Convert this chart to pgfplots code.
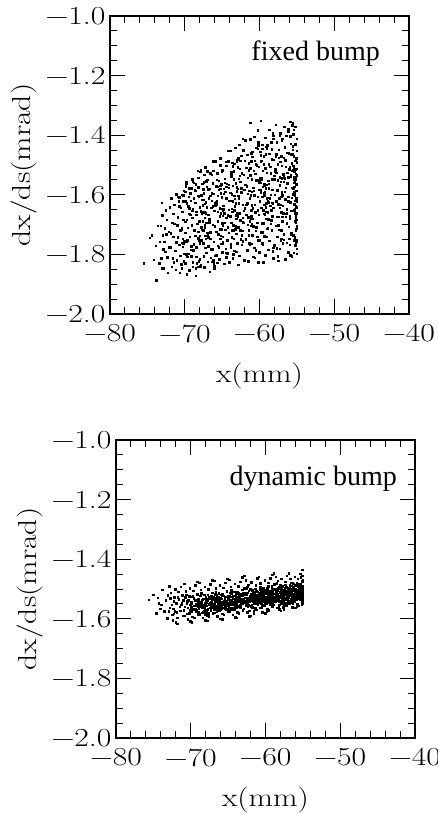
\documentclass[border=0pt]{standalone}
\usepackage{fontspec}
\usepackage{graphicx}
\usepackage{pgfplots}
\pgfplotsset{compat=1.18}
\newfontfamily\tnr{Liberation Serif}
% wide lettering of the original plot
\newcommand\w[1]{\scalebox{1.22}[1]{#1}}

\pgfplotsset{panel/.style={
    scale only axis,
    width=299pt, height=298pt,
    xmin=-80, xmax=-40, ymin=-2, ymax=-1,
    xtick={-80,-70,-60,-50,-40},
    xticklabels={\w{−80},\w{−70},\w{−60},\w{−50},\w{−40}},
    ytick={-2,-1.8,-1.6,-1.4,-1.2,-1},
    yticklabels={\w{−2.0},\w{−1.8},\w{−1.6},\w{−1.4},\w{−1.2},\w{−1.0}},
    minor x tick num=4,
    minor y tick num=3,
    tick align=inside,
    major tick length=15pt,
    minor tick length=7pt,
    every tick/.style={black, line width=0.9pt},
    axis line style={line width=1.3pt},
    tick label style={font=\fontsize{26}{30}\selectfont},
    xticklabel style={yshift=-7pt},
    yticklabel style={xshift=-1pt},
    label style={font=\fontsize{26}{30}\selectfont},
    xlabel={\w{x(mm)}},
    ylabel={\w{dx/ds(mrad)}},
    xlabel style={at={(axis description cs:0.5,-0.208)}, anchor=center},
    ylabel style={at={(axis description cs:-0.288,0.5)}, anchor=center},
  },
  dots/.style={only marks, mark=square*, mark size=0.75pt, black},
}

\begin{document}
\begin{tikzpicture}
\begin{axis}[panel, at={(0pt,0pt)}, anchor=south west]
\addplot[dots] coordinates {
(-75.52,-1.829) (-74.41,-1.736) (-74.68,-1.744) (-73.83,-1.886) (-73.07,-1.627) (-73.91,-1.771) (-74.15,-1.818) (-73.62,-1.703)
(-73.18,-1.812) (-72.41,-1.684) (-72.87,-1.846) (-73.34,-1.757) (-72.15,-1.723) (-72.63,-1.791) (-73.02,-1.668) (-72.29,-1.862) (-72.94,-1.735) (-73.45,-1.829) (-72.08,-1.776) (-72.52,-1.651) (-73.21,-1.703) (-72.76,-1.758) (-72.33,-1.809) (-73.11,-1.847) (-72.69,-1.712) (-72.04,-1.641) (-72.88,-1.782) (-72.46,-1.733)
(-71.83,-1.612) (-70.27,-1.748) (-71.46,-1.826) (-70.91,-1.673) (-71.12,-1.759) (-70.58,-1.804) (-71.71,-1.694) (-70.14,-1.587) (-71.38,-1.633) (-70.66,-1.861) (-71.95,-1.776) (-70.43,-1.712) (-71.24,-1.851) (-70.82,-1.621) (-71.57,-1.741) (-70.05,-1.797) (-71.03,-1.702) (-70.36,-1.657) (-71.64,-1.813) (-70.71,-1.768) (-71.17,-1.598) (-70.49,-1.833) (-71.89,-1.729) (-70.22,-1.683) (-71.31,-1.787) (-70.97,-1.742) (-71.52,-1.664) (-70.61,-1.718) (-71.08,-1.819) (-70.33,-1.761) (-71.77,-1.842) (-70.88,-1.606) (-71.43,-1.697) (-70.11,-1.823) (-70.54,-1.644)
(-69.87,-1.571) (-68.23,-1.542) (-69.41,-1.663) (-68.76,-1.718) (-69.12,-1.806) (-68.58,-1.627) (-69.64,-1.752) (-68.05,-1.689) (-69.28,-1.594) (-68.91,-1.841) (-69.95,-1.727) (-68.37,-1.774) (-69.53,-1.638) (-68.69,-1.583) (-69.06,-1.702) (-68.14,-1.823) (-69.77,-1.867) (-68.45,-1.656) (-69.33,-1.741) (-68.83,-1.765) (-69.19,-1.619) (-68.52,-1.872) (-69.71,-1.684) (-68.28,-1.603) (-69.46,-1.797) (-68.97,-1.676) (-69.02,-1.548) (-68.63,-1.738) (-69.89,-1.622) (-68.11,-1.752) (-69.58,-1.711) (-68.41,-1.829) (-69.24,-1.667) (-68.79,-1.612) (-69.66,-1.808) (-68.32,-1.697) (-69.15,-1.772) (-68.55,-1.564) (-69.38,-1.853) (-68.02,-1.641) (-69.81,-1.758) (-68.87,-1.786) (-69.49,-1.578) (-68.19,-1.724) (-68.94,-1.649)
(-67.91,-1.523) (-66.22,-1.488) (-67.45,-1.617) (-66.73,-1.682) (-67.18,-1.748) (-66.54,-1.811) (-67.66,-1.562) (-66.09,-1.653) (-67.32,-1.709) (-66.88,-1.773) (-67.84,-1.836) (-66.37,-1.594) (-67.03,-1.641) (-66.61,-1.726) (-67.57,-1.689) (-66.15,-1.758) (-67.26,-1.508) (-66.95,-1.824) (-67.72,-1.661) (-66.42,-1.532) (-67.11,-1.795) (-66.79,-1.612) (-67.39,-1.843) (-66.27,-1.701) (-67.97,-1.738) (-66.66,-1.579) (-67.52,-1.762) (-66.04,-1.846) (-67.23,-1.624) (-66.84,-1.667) (-67.63,-1.719) (-66.31,-1.783) (-67.07,-1.556) (-66.58,-1.747) (-67.81,-1.602) (-66.19,-1.519) (-67.36,-1.676) (-66.91,-1.734) (-67.49,-1.806) (-66.47,-1.643) (-67.14,-1.693) (-66.69,-1.858) (-67.77,-1.752) (-66.12,-1.597) (-67.29,-1.778) (-66.98,-1.549) (-67.59,-1.635) (-66.35,-1.824) (-67.02,-1.727) (-66.76,-1.692)
(-65.88,-1.487) (-64.21,-1.452) (-65.43,-1.583) (-64.76,-1.648) (-65.14,-1.716) (-64.52,-1.781) (-65.67,-1.527) (-64.08,-1.619) (-65.31,-1.672) (-64.89,-1.741) (-65.82,-1.803) (-64.36,-1.562) (-65.05,-1.608) (-64.63,-1.693) (-65.56,-1.657) (-64.14,-1.727) (-65.24,-1.478) (-64.97,-1.792) (-65.73,-1.631) (-64.43,-1.503) (-65.12,-1.764) (-64.78,-1.579) (-65.38,-1.816) (-64.27,-1.668) (-65.96,-1.706) (-64.67,-1.546) (-65.51,-1.733) (-64.03,-1.827) (-65.22,-1.594) (-64.85,-1.636) (-65.62,-1.688) (-64.32,-1.752) (-65.08,-1.521) (-64.57,-1.717) (-65.79,-1.571) (-64.18,-1.488) (-65.35,-1.645) (-64.92,-1.703) (-65.48,-1.776) (-64.46,-1.612) (-65.16,-1.662) (-64.71,-1.831) (-65.76,-1.724) (-64.11,-1.566) (-65.28,-1.748) (-64.99,-1.517) (-65.59,-1.603) (-64.34,-1.796) (-65.01,-1.695) (-64.74,-1.661) (-65.92,-1.626) (-64.56,-1.589) (-65.19,-1.738) (-64.24,-1.709) (-65.44,-1.553)
(-63.87,-1.452) (-62.23,-1.412) (-63.42,-1.547) (-62.77,-1.612) (-63.13,-1.681) (-62.51,-1.749) (-63.68,-1.493) (-62.06,-1.583) (-63.32,-1.638) (-62.88,-1.708) (-63.83,-1.776) (-62.38,-1.528) (-63.04,-1.574) (-62.62,-1.661) (-63.57,-1.623) (-62.15,-1.694) (-63.25,-1.442) (-62.96,-1.762) (-63.74,-1.598) (-62.44,-1.469) (-63.11,-1.731) (-62.79,-1.546) (-63.37,-1.788) (-62.28,-1.633) (-63.95,-1.672) (-62.66,-1.512) (-63.52,-1.702) (-62.02,-1.819) (-63.21,-1.561) (-62.84,-1.603) (-63.63,-1.657) (-62.33,-1.721) (-63.07,-1.487) (-62.58,-1.686) (-63.79,-1.537) (-62.19,-1.451) (-63.34,-1.613) (-62.91,-1.672) (-63.47,-1.747) (-62.47,-1.578) (-63.16,-1.629) (-62.72,-1.804) (-63.77,-1.693) (-62.12,-1.532) (-63.27,-1.716) (-62.98,-1.483) (-63.58,-1.569) (-62.35,-1.767) (-63.01,-1.662) (-62.75,-1.628) (-63.91,-1.593) (-62.55,-1.556) (-63.18,-1.706) (-62.25,-1.677) (-63.43,-1.521) (-62.86,-1.834) (-63.61,-1.813) (-62.41,-1.736) (-63.09,-1.791) (-62.69,-1.432)
(-61.88,-1.417) (-60.22,-1.383) (-61.43,-1.518) (-60.76,-1.586) (-61.14,-1.652) (-60.53,-1.721) (-61.67,-1.465) (-60.07,-1.557) (-61.31,-1.611) (-60.89,-1.681) (-61.84,-1.749) (-60.37,-1.501) (-61.05,-1.547) (-60.63,-1.634) (-61.56,-1.596) (-60.14,-1.667) (-61.24,-1.414) (-60.97,-1.736) (-61.73,-1.571) (-60.43,-1.442) (-61.12,-1.703) (-60.78,-1.519) (-61.38,-1.762) (-60.27,-1.606) (-61.96,-1.645) (-60.67,-1.485) (-61.51,-1.675) (-60.03,-1.792) (-61.22,-1.534) (-60.85,-1.576) (-61.62,-1.629) (-60.32,-1.694) (-61.08,-1.461) (-60.57,-1.659) (-61.79,-1.509) (-60.18,-1.424) (-61.35,-1.586) (-60.92,-1.645) (-61.47,-1.719) (-60.46,-1.551) (-61.17,-1.601) (-60.71,-1.777) (-61.76,-1.666) (-60.11,-1.505) (-61.28,-1.689) (-60.99,-1.456) (-61.59,-1.542) (-60.34,-1.741) (-61.01,-1.635) (-60.74,-1.601) (-61.92,-1.566) (-60.56,-1.529) (-61.19,-1.679) (-60.24,-1.651) (-61.44,-1.494) (-60.87,-1.808) (-61.64,-1.786) (-60.41,-1.709) (-61.09,-1.764) (-60.69,-1.405) (-61.27,-1.358) (-60.16,-1.827) (-61.53,-1.823) (-60.81,-1.705) (-61.02,-1.589)
(-59.87,-1.352) (-58.23,-1.394) (-59.42,-1.498) (-58.76,-1.563) (-59.13,-1.628) (-58.52,-1.697) (-59.66,-1.445) (-58.06,-1.536) (-59.31,-1.589) (-58.88,-1.658) (-59.83,-1.726) (-58.38,-1.481) (-59.04,-1.525) (-58.62,-1.611) (-59.56,-1.573) (-58.14,-1.644) (-59.25,-1.408) (-58.96,-1.713) (-59.74,-1.548) (-58.44,-1.424) (-59.11,-1.681) (-58.79,-1.497) (-59.37,-1.739) (-58.28,-1.583) (-59.95,-1.622) (-58.67,-1.462) (-59.52,-1.652) (-58.02,-1.769) (-59.21,-1.511) (-58.84,-1.553) (-59.63,-1.606) (-58.33,-1.671) (-59.07,-1.438) (-58.58,-1.636) (-59.78,-1.486) (-58.19,-1.401) (-59.34,-1.563) (-58.91,-1.622) (-59.47,-1.696) (-58.47,-1.528) (-59.16,-1.578) (-58.72,-1.754) (-59.77,-1.643) (-58.12,-1.482) (-59.28,-1.666) (-58.98,-1.433) (-59.58,-1.519) (-58.35,-1.718) (-59.01,-1.612) (-58.75,-1.578) (-59.91,-1.543) (-58.55,-1.506) (-59.18,-1.656) (-58.25,-1.628) (-59.44,-1.471) (-58.86,-1.785) (-59.64,-1.763) (-58.41,-1.686) (-59.09,-1.741) (-58.69,-1.382) (-59.27,-1.803) (-58.16,-1.812) (-59.53,-1.826) (-58.81,-1.682) (-59.02,-1.566) (-58.49,-1.599) (-59.71,-1.695) (-58.31,-1.547) (-59.39,-1.633) (-58.93,-1.711)
(-57.86,-1.364) (-56.22,-1.378) (-57.41,-1.476) (-56.77,-1.541) (-57.12,-1.606) (-56.51,-1.674) (-57.67,-1.423) (-56.05,-1.514) (-57.32,-1.567) (-56.89,-1.636) (-57.82,-1.704) (-56.39,-1.459) (-57.03,-1.503) (-56.61,-1.589) (-57.57,-1.551) (-56.13,-1.622) (-57.26,-1.393) (-56.95,-1.691) (-57.75,-1.526) (-56.45,-1.402) (-57.11,-1.659) (-56.78,-1.475) (-57.36,-1.717) (-56.29,-1.561) (-57.94,-1.599) (-56.66,-1.441) (-57.51,-1.631) (-56.03,-1.747) (-57.22,-1.489) (-56.83,-1.531) (-57.64,-1.584) (-56.34,-1.649) (-57.06,-1.416) (-56.57,-1.614) (-57.79,-1.464) (-56.18,-1.386) (-57.33,-1.541) (-56.92,-1.601) (-57.46,-1.674) (-56.48,-1.506) (-57.17,-1.556) (-56.73,-1.732) (-57.76,-1.621) (-56.11,-1.461) (-57.29,-1.644) (-56.97,-1.411) (-57.59,-1.497) (-56.36,-1.696) (-57.01,-1.591) (-56.74,-1.556) (-57.92,-1.521) (-56.54,-1.484) (-57.19,-1.634) (-56.26,-1.606) (-57.43,-1.449) (-56.87,-1.763) (-57.63,-1.741) (-56.42,-1.664) (-57.08,-1.719) (-56.68,-1.372) (-57.28,-1.781) (-56.15,-1.792) (-57.54,-1.806) (-56.82,-1.661) (-57.04,-1.544) (-56.49,-1.577) (-57.72,-1.673) (-56.31,-1.525) (-57.38,-1.611) (-56.94,-1.689) (-57.48,-1.821) (-56.58,-1.816) (-57.15,-1.752) (-56.07,-1.707) (-57.69,-1.779)
(-55.91,-1.355) (-55.22,-1.372) (-55.63,-1.463) (-55.37,-1.521) (-55.12,-1.586) (-55.78,-1.654) (-55.05,-1.412) (-55.48,-1.503) (-55.29,-1.557) (-55.86,-1.624) (-55.14,-1.692) (-55.57,-1.448) (-55.03,-1.491) (-55.69,-1.577) (-55.33,-1.541) (-55.08,-1.611) (-55.44,-1.382) (-55.95,-1.679) (-55.17,-1.514) (-55.52,-1.396) (-55.26,-1.647) (-55.74,-1.463) (-55.02,-1.705) (-55.39,-1.548) (-55.11,-1.587) (-55.83,-1.429) (-55.21,-1.619) (-55.47,-1.735) (-55.06,-1.477) (-55.61,-1.519) (-55.34,-1.572) (-55.15,-1.637) (-55.89,-1.404) (-55.27,-1.602) (-55.04,-1.452) (-55.55,-1.358) (-55.19,-1.529) (-55.42,-1.589) (-55.09,-1.662) (-55.71,-1.494) (-55.31,-1.544) (-55.13,-1.721) (-55.66,-1.609) (-55.01,-1.563) (-55.36,-1.632) (-55.81,-1.539) (-55.24,-1.485) (-55.07,-1.684) (-55.49,-1.578) (-55.18,-1.543) (-55.96,-1.508) (-55.41,-1.471) (-55.02,-1.622) (-55.28,-1.594) (-55.58,-1.437) (-55.11,-1.751) (-55.76,-1.729) (-55.35,-1.652) (-55.05,-1.707) (-55.64,-1.366) (-55.23,-1.769) (-55.03,-1.781) (-55.45,-1.794) (-55.16,-1.668) (-55.85,-1.532) (-55.07,-1.565) (-55.32,-1.661) (-55.01,-1.512) (-55.53,-1.598) (-55.19,-1.676) (-55.72,-1.806) (-55.04,-1.798) (-55.26,-1.742) (-55.12,-1.713) (-55.93,-1.767) (-55.02,-1.535) (-55.38,-1.559) (-55.09,-1.641) (-55.21,-1.688) (-55.06,-1.758)
(-66.44,-1.782) (-57.92,-1.514) (-64.49,-1.489) (-58.74,-1.625) (-55.36,-1.753) (-66.38,-1.619) (-65.65,-1.573) (-67.34,-1.701) (-62.55,-1.485) (-66.09,-1.840) (-70.29,-1.774) (-65.63,-1.828) (-64.94,-1.757) (-61.46,-1.736) (-59.83,-1.560) (-63.73,-1.743) (-62.23,-1.720) (-68.20,-1.574) (-63.38,-1.652) (-65.28,-1.579)
(-59.38,-1.602) (-61.27,-1.510) (-58.20,-1.411) (-64.45,-1.809) (-67.97,-1.762) (-60.66,-1.811) (-59.67,-1.432) (-64.12,-1.576) (-55.50,-1.518) (-70.20,-1.623) (-64.47,-1.677) (-56.13,-1.541) (-60.20,-1.551) (-64.96,-1.764) (-60.51,-1.786) (-65.11,-1.564) (-68.21,-1.842) (-56.14,-1.607) (-70.21,-1.621) (-55.17,-1.765)
(-57.48,-1.702) (-60.52,-1.498) (-69.88,-1.561) (-58.36,-1.627) (-69.33,-1.577) (-69.96,-1.691) (-61.61,-1.701) (-56.48,-1.483) (-67.22,-1.555) (-55.96,-1.672) (-68.16,-1.604) (-67.86,-1.517) (-68.48,-1.775) (-56.79,-1.750) (-66.88,-1.582) (-63.68,-1.620) (-60.99,-1.472) (-63.55,-1.799) (-67.41,-1.658) (-69.81,-1.557)
(-63.80,-1.529) (-59.40,-1.663) (-61.14,-1.671) (-59.19,-1.464) (-57.13,-1.748) (-68.28,-1.519) (-67.04,-1.572) (-62.92,-1.580) (-59.16,-1.641) (-59.64,-1.726) (-65.73,-1.620) (-57.08,-1.471) (-66.22,-1.820) (-68.93,-1.556) (-59.35,-1.593) (-66.89,-1.743) (-66.58,-1.603) (-70.43,-1.847) (-58.21,-1.790) (-55.22,-1.547)
(-69.78,-1.800) (-67.98,-1.816) (-63.81,-1.522) (-56.35,-1.661) (-62.43,-1.591) (-58.38,-1.447) (-63.41,-1.603) (-67.50,-1.659) (-63.09,-1.668) (-63.54,-1.719) (-67.40,-1.533) (-63.74,-1.647) (-66.11,-1.829) (-70.10,-1.755) (-62.13,-1.654) (-55.87,-1.803) (-69.91,-1.590) (-65.90,-1.804) (-59.88,-1.456) (-67.66,-1.616)
(-67.33,-1.630) (-67.53,-1.581) (-61.81,-1.633) (-69.77,-1.629) (-67.17,-1.625) (-62.68,-1.536) (-68.22,-1.746) (-70.23,-1.602) (-65.59,-1.771) (-60.01,-1.752) (-59.57,-1.767) (-61.33,-1.766) (-65.25,-1.716) (-55.80,-1.733) (-69.92,-1.830) (-70.72,-1.639) (-69.11,-1.784) (-60.18,-1.434) (-59.04,-1.445) (-61.95,-1.486)
(-59.84,-1.467) (-67.96,-1.839) (-65.94,-1.635) (-57.33,-1.401) (-66.28,-1.561) (-61.01,-1.697) (-60.21,-1.446) (-60.15,-1.753) (-67.20,-1.662) (-67.89,-1.655) (-63.56,-1.504) (-55.40,-1.508) (-67.48,-1.595) (-70.73,-1.608) (-63.85,-1.766) (-59.85,-1.487) (-65.75,-1.549) (-64.78,-1.596) (-55.97,-1.804) (-57.01,-1.600)
(-70.37,-1.600) (-69.17,-1.578) (-59.86,-1.584) (-69.41,-1.645) (-64.52,-1.794) (-68.63,-1.586) (-62.27,-1.755) (-59.39,-1.569) (-65.77,-1.623) (-69.26,-1.666) (-68.94,-1.826) (-68.52,-1.847) (-69.79,-1.562) (-67.82,-1.708) (-64.14,-1.650) (-67.64,-1.717) (-62.77,-1.609) (-68.47,-1.667) (-65.12,-1.646) (-58.90,-1.610)
(-68.49,-1.808) (-64.63,-1.559) (-64.95,-1.652) (-66.29,-1.638) (-67.51,-1.719) (-58.19,-1.777) (-58.45,-1.652) (-69.45,-1.607) (-59.87,-1.593) (-70.92,-1.677) (-62.90,-1.508) (-60.05,-1.583) (-60.53,-1.550) (-61.11,-1.488) (-65.29,-1.501) (-64.93,-1.670) (-63.37,-1.495) (-57.97,-1.548) (-56.36,-1.761) (-56.18,-1.378)
(-67.25,-1.738) (-65.27,-1.569) (-67.47,-1.557) (-64.44,-1.572) (-62.25,-1.690) (-62.85,-1.477) (-59.80,-1.544) (-66.57,-1.527) (-56.63,-1.545) (-67.01,-1.521) (-55.23,-1.430) (-62.56,-1.718) (-57.81,-1.471) (-68.82,-1.559) (-68.98,-1.654) (-70.38,-1.717) (-56.93,-1.673) (-63.72,-1.718) (-70.24,-1.762) (-63.04,-1.588)
};
\node[anchor=base east, inner sep=0pt, font=\fontsize{28}{32}\selectfont\tnr]
  at (axis description cs:0.903,0.852) {fixed bump};
\end{axis}

\begin{axis}[panel, at={(6pt,-424pt)}, anchor=south west]
\addplot[dots] coordinates {
(-75.61,-1.536) (-75.02,-1.519) (-74.63,-1.582) (-74.28,-1.547) (-74.07,-1.566) (-73.81,-1.503) (-73.55,-1.574) (-73.36,-1.537) (-73.18,-1.598) (-73.92,-1.552) (-73.07,-1.521) (-74.41,-1.529)
(-72.87,-1.491) (-71.24,-1.546) (-72.43,-1.605) (-71.76,-1.527) (-72.12,-1.574) (-71.51,-1.559) (-72.66,-1.512) (-71.05,-1.589) (-72.31,-1.541) (-71.88,-1.578) (-72.82,-1.563) (-71.37,-1.492) (-72.03,-1.612) (-71.62,-1.534) (-72.57,-1.553) (-71.14,-1.521) (-72.25,-1.583) (-71.96,-1.547) (-72.74,-1.531) (-71.44,-1.572) (-72.11,-1.501) (-71.79,-1.596) (-72.37,-1.566) (-71.28,-1.553) (-72.95,-1.574) (-71.67,-1.509) (-72.51,-1.587) (-71.02,-1.538) (-72.22,-1.528) (-71.84,-1.616)
(-70.86,-1.483) (-69.23,-1.549) (-70.42,-1.601) (-69.77,-1.524) (-70.13,-1.571) (-69.52,-1.556) (-70.67,-1.508) (-69.06,-1.586) (-70.32,-1.538) (-69.89,-1.575) (-70.83,-1.559) (-69.38,-1.488) (-70.04,-1.608) (-69.61,-1.531) (-70.56,-1.549) (-69.15,-1.517) (-70.26,-1.579) (-69.95,-1.543) (-70.74,-1.527) (-69.45,-1.568) (-70.11,-1.497) (-69.78,-1.593) (-70.38,-1.562) (-69.29,-1.549) (-70.94,-1.571) (-69.66,-1.505) (-70.52,-1.583) (-69.03,-1.534) (-70.21,-1.524) (-69.84,-1.612) (-70.47,-1.541) (-69.33,-1.566) (-70.79,-1.589) (-69.12,-1.476) (-70.06,-1.553) (-69.57,-1.597) (-70.61,-1.519) (-69.41,-1.537) (-70.18,-1.582) (-69.92,-1.561)
(-68.87,-1.478) (-67.22,-1.544) (-68.41,-1.597) (-67.76,-1.519) (-68.14,-1.566) (-67.53,-1.551) (-68.66,-1.503) (-67.07,-1.581) (-68.33,-1.533) (-67.88,-1.571) (-68.84,-1.555) (-67.37,-1.484) (-68.05,-1.604) (-67.62,-1.527) (-68.57,-1.545) (-67.16,-1.512) (-68.27,-1.574) (-67.94,-1.538) (-68.73,-1.522) (-67.46,-1.563) (-68.12,-1.492) (-67.79,-1.588) (-68.39,-1.557) (-67.29,-1.544) (-68.96,-1.566) (-67.67,-1.501) (-68.53,-1.579) (-67.04,-1.529) (-68.22,-1.519) (-67.83,-1.607) (-68.48,-1.536) (-67.34,-1.561) (-68.78,-1.584) (-67.13,-1.471) (-68.07,-1.548) (-67.58,-1.592) (-68.62,-1.514) (-67.42,-1.532) (-68.19,-1.577) (-67.91,-1.556) (-68.45,-1.562) (-67.25,-1.531) (-68.91,-1.541) (-67.71,-1.567) (-68.02,-1.536) (-67.49,-1.548) (-68.31,-1.553) (-67.09,-1.559)
(-66.88,-1.472) (-65.21,-1.539) (-66.43,-1.592) (-65.77,-1.515) (-66.12,-1.561) (-65.54,-1.546) (-66.67,-1.498) (-65.06,-1.576) (-66.34,-1.528) (-65.87,-1.566) (-66.83,-1.551) (-65.36,-1.479) (-66.04,-1.599) (-65.63,-1.522) (-66.58,-1.541) (-65.17,-1.507) (-66.26,-1.569) (-65.93,-1.533) (-66.72,-1.517) (-65.47,-1.558) (-66.14,-1.487) (-65.78,-1.583) (-66.38,-1.552) (-65.28,-1.539) (-66.97,-1.561) (-65.68,-1.496) (-66.52,-1.574) (-65.03,-1.524) (-66.23,-1.514) (-65.82,-1.601) (-66.47,-1.531) (-65.33,-1.556) (-66.77,-1.579) (-65.12,-1.466) (-66.08,-1.543) (-65.57,-1.587) (-66.63,-1.509) (-65.43,-1.527) (-66.18,-1.572) (-65.91,-1.551) (-66.46,-1.557) (-65.24,-1.526) (-66.92,-1.536) (-65.72,-1.562) (-66.01,-1.531) (-65.48,-1.543) (-66.32,-1.548) (-65.08,-1.554) (-66.55,-1.521) (-65.39,-1.566) (-66.86,-1.529) (-65.61,-1.541) (-66.21,-1.537) (-65.15,-1.549) (-65.98,-1.519)
(-64.87,-1.468) (-63.23,-1.534) (-64.42,-1.587) (-63.76,-1.511) (-64.13,-1.557) (-63.52,-1.541) (-64.66,-1.493) (-63.07,-1.571) (-64.33,-1.523) (-63.88,-1.561) (-64.84,-1.547) (-63.38,-1.475) (-64.04,-1.594) (-63.61,-1.517) (-64.57,-1.536) (-63.15,-1.502) (-64.27,-1.564) (-63.94,-1.528) (-64.73,-1.512) (-63.46,-1.553) (-64.11,-1.482) (-63.79,-1.578) (-64.38,-1.547) (-63.29,-1.534) (-64.96,-1.556) (-63.67,-1.491) (-64.53,-1.569) (-63.03,-1.519) (-64.22,-1.509) (-63.83,-1.596) (-64.48,-1.526) (-63.34,-1.551) (-64.78,-1.574) (-63.12,-1.461) (-64.07,-1.538) (-63.58,-1.582) (-64.62,-1.504) (-63.42,-1.522) (-64.19,-1.567) (-63.91,-1.546) (-64.45,-1.552) (-63.25,-1.521) (-64.92,-1.531) (-63.71,-1.557) (-64.01,-1.526) (-63.49,-1.538) (-64.31,-1.543) (-63.09,-1.549) (-64.56,-1.516) (-63.39,-1.561) (-64.86,-1.524) (-63.62,-1.536) (-64.21,-1.532) (-63.16,-1.544) (-63.97,-1.514) (-64.69,-1.545) (-63.55,-1.529) (-64.15,-1.551) (-63.85,-1.539) (-63.33,-1.518)
(-61.14,-1.463) (-62.71,-1.529) (-61.58,-1.582) (-62.27,-1.506) (-61.86,-1.552) (-62.49,-1.537) (-61.33,-1.488) (-62.93,-1.566) (-61.69,-1.518) (-62.12,-1.556) (-61.17,-1.542) (-62.64,-1.471) (-61.96,-1.589) (-62.38,-1.512) (-61.43,-1.531) (-62.86,-1.497) (-61.73,-1.559) (-62.06,-1.523) (-61.27,-1.507) (-62.55,-1.548) (-61.89,-1.477) (-62.21,-1.573) (-61.62,-1.542) (-62.72,-1.529) (-61.04,-1.551) (-62.33,-1.486) (-61.47,-1.564) (-62.97,-1.514) (-61.78,-1.504) (-62.17,-1.591) (-61.52,-1.521) (-62.66,-1.546) (-61.22,-1.569) (-62.88,-1.456) (-61.93,-1.533) (-62.42,-1.577) (-61.38,-1.499) (-62.58,-1.517) (-61.81,-1.562) (-62.09,-1.541) (-61.55,-1.547) (-62.75,-1.516) (-61.08,-1.526) (-62.29,-1.552) (-61.99,-1.521) (-62.51,-1.533) (-61.69,-1.538) (-62.91,-1.544) (-61.44,-1.511) (-62.61,-1.556) (-61.14,-1.519) (-62.37,-1.531) (-61.79,-1.527) (-62.84,-1.539) (-61.03,-1.509) (-62.31,-1.541) (-61.45,-1.524) (-62.85,-1.546) (-61.15,-1.534) (-62.67,-1.513) (-61.28,-1.548) (-62.02,-1.501) (-61.61,-1.574) (-62.46,-1.493) (-61.91,-1.557)
(-60.88,-1.458) (-59.24,-1.522) (-60.41,-1.577) (-59.75,-1.499) (-60.12,-1.546) (-59.53,-1.529) (-60.68,-1.481) (-59.08,-1.559) (-60.34,-1.511) (-59.87,-1.549) (-60.83,-1.535) (-59.39,-1.463) (-60.03,-1.582) (-59.62,-1.505) (-60.56,-1.524) (-59.16,-1.491) (-60.26,-1.552) (-59.95,-1.516) (-60.74,-1.501) (-59.47,-1.541) (-60.12,-1.471) (-59.79,-1.566) (-60.39,-1.535) (-59.28,-1.522) (-60.97,-1.544) (-59.66,-1.479) (-60.52,-1.557) (-59.04,-1.507) (-60.23,-1.497) (-59.84,-1.575) (-60.47,-1.514) (-59.35,-1.539) (-60.79,-1.562) (-59.11,-1.452) (-60.07,-1.526) (-59.58,-1.571) (-60.63,-1.493) (-59.44,-1.511) (-60.18,-1.555) (-59.92,-1.534) (-60.44,-1.541) (-59.26,-1.509) (-60.93,-1.519) (-59.72,-1.545) (-60.02,-1.514) (-59.49,-1.526) (-60.32,-1.531) (-59.09,-1.537) (-60.57,-1.504) (-59.38,-1.549) (-60.87,-1.512) (-59.61,-1.524) (-60.22,-1.521) (-59.17,-1.532) (-59.98,-1.502) (-60.69,-1.533) (-59.54,-1.517) (-60.14,-1.539) (-59.86,-1.527) (-59.32,-1.506) (-60.59,-1.548) (-59.21,-1.513) (-60.91,-1.529) (-59.67,-1.536) (-60.28,-1.508) (-59.06,-1.523) (-60.49,-1.561) (-59.81,-1.496) (-60.05,-1.543) (-59.42,-1.532)
(-57.16,-1.455) (-58.73,-1.516) (-57.57,-1.569) (-58.26,-1.493) (-57.87,-1.539) (-58.48,-1.522) (-57.34,-1.475) (-58.92,-1.552) (-57.68,-1.504) (-58.13,-1.543) (-57.18,-1.529) (-58.63,-1.458) (-57.97,-1.572) (-58.39,-1.498) (-57.44,-1.517) (-58.85,-1.484) (-57.74,-1.545) (-58.05,-1.509) (-57.26,-1.494) (-58.54,-1.534) (-57.88,-1.465) (-58.22,-1.559) (-57.61,-1.528) (-58.71,-1.515) (-57.03,-1.537) (-58.34,-1.472) (-57.48,-1.551) (-58.96,-1.501) (-57.77,-1.491) (-58.16,-1.567) (-57.53,-1.507) (-58.65,-1.532) (-57.23,-1.555) (-58.89,-1.447) (-57.92,-1.519) (-58.43,-1.563) (-57.37,-1.486) (-58.59,-1.504) (-57.82,-1.548) (-58.08,-1.527) (-57.56,-1.534) (-58.76,-1.503) (-57.07,-1.512) (-58.28,-1.538) (-57.98,-1.507) (-58.51,-1.519) (-57.69,-1.524) (-58.91,-1.531) (-57.43,-1.497) (-58.62,-1.542) (-57.13,-1.505) (-58.38,-1.517) (-57.78,-1.514) (-58.83,-1.526) (-57.02,-1.495) (-58.31,-1.526) (-57.46,-1.511) (-58.86,-1.532) (-57.14,-1.521) (-58.68,-1.499) (-57.27,-1.535) (-58.03,-1.488) (-57.62,-1.561) (-58.47,-1.481) (-57.91,-1.544) (-57.31,-1.518) (-58.19,-1.529) (-57.72,-1.541) (-58.57,-1.511) (-57.09,-1.548) (-58.11,-1.522) (-57.51,-1.502) (-58.79,-1.536) (-57.84,-1.492) (-57.39,-1.529)
(-56.87,-1.447) (-55.23,-1.509) (-56.42,-1.561) (-55.76,-1.484) (-56.13,-1.531) (-55.53,-1.514) (-56.67,-1.466) (-55.07,-1.546) (-56.33,-1.497) (-55.88,-1.536) (-56.84,-1.521) (-55.38,-1.449) (-56.04,-1.563) (-55.62,-1.491) (-56.57,-1.509) (-55.15,-1.476) (-56.27,-1.538) (-55.94,-1.503) (-56.73,-1.487) (-55.46,-1.527) (-56.11,-1.458) (-55.78,-1.551) (-56.38,-1.521) (-55.28,-1.508) (-56.96,-1.529) (-55.66,-1.465) (-56.52,-1.543) (-55.04,-1.494) (-56.22,-1.483) (-55.83,-1.559) (-56.47,-1.499) (-55.34,-1.524) (-56.78,-1.547) (-55.12,-1.436) (-56.07,-1.512) (-55.57,-1.556) (-56.62,-1.478) (-55.43,-1.496) (-56.18,-1.541) (-55.92,-1.519) (-56.44,-1.526) (-55.25,-1.493) (-56.92,-1.504) (-55.71,-1.531) (-56.01,-1.499) (-55.48,-1.511) (-56.31,-1.516) (-55.09,-1.523) (-56.56,-1.489) (-55.37,-1.534) (-56.86,-1.497) (-55.61,-1.509) (-56.21,-1.506) (-55.16,-1.518) (-55.97,-1.488) (-56.69,-1.518) (-55.54,-1.502) (-56.14,-1.524) (-55.85,-1.512) (-55.31,-1.491) (-56.59,-1.533) (-55.21,-1.498) (-56.91,-1.514) (-55.67,-1.521) (-56.28,-1.493) (-55.05,-1.507) (-56.49,-1.545) (-55.81,-1.481) (-56.05,-1.528) (-55.42,-1.517) (-55.11,-1.473) (-55.03,-1.531) (-55.19,-1.552) (-55.08,-1.489) (-55.27,-1.461) (-55.02,-1.514) (-55.14,-1.538) (-55.06,-1.501) (-55.22,-1.527) (-55.01,-1.548) (-55.33,-1.483) (-55.12,-1.456) (-55.04,-1.469) (-55.17,-1.519) (-55.09,-1.541)
(-57.18,-1.530) (-68.88,-1.545) (-60.39,-1.496) (-66.88,-1.564) (-60.79,-1.525) (-58.95,-1.532) (-60.73,-1.545) (-66.85,-1.561) (-59.26,-1.513) (-57.87,-1.525) (-65.49,-1.531) (-69.03,-1.542) (-56.62,-1.501) (-58.11,-1.493) (-62.41,-1.538) (-63.90,-1.555) (-56.07,-1.515) (-64.69,-1.553) (-59.23,-1.529) (-56.34,-1.480)
(-68.02,-1.547) (-55.57,-1.501) (-58.81,-1.531) (-58.26,-1.525) (-56.04,-1.487) (-67.36,-1.565) (-67.09,-1.528) (-62.68,-1.551) (-67.30,-1.573) (-65.01,-1.534) (-56.47,-1.508) (-61.60,-1.544) (-69.25,-1.571) (-63.73,-1.558) (-59.68,-1.526) (-63.09,-1.516) (-61.02,-1.530) (-59.32,-1.513) (-56.76,-1.521) (-61.78,-1.560)
(-67.60,-1.582) (-59.07,-1.556) (-69.03,-1.538) (-58.15,-1.553) (-63.39,-1.517) (-64.69,-1.537) (-58.36,-1.506) (-68.41,-1.552) (-69.00,-1.578) (-67.24,-1.524) (-61.72,-1.528) (-67.29,-1.548) (-66.34,-1.534) (-63.90,-1.551) (-61.62,-1.540) (-59.31,-1.517) (-63.52,-1.525) (-58.56,-1.518) (-68.02,-1.527) (-59.73,-1.518)
(-59.08,-1.548) (-55.15,-1.512) (-68.73,-1.553) (-64.68,-1.525) (-64.93,-1.534) (-60.10,-1.539) (-60.19,-1.507) (-56.58,-1.517) (-61.54,-1.535) (-64.63,-1.537) (-57.09,-1.506) (-60.51,-1.536) (-58.93,-1.552) (-62.41,-1.550) (-56.85,-1.513) (-65.88,-1.544) (-68.05,-1.587) (-64.99,-1.554) (-59.73,-1.522) (-68.31,-1.556)
(-62.22,-1.534) (-62.94,-1.535) (-58.09,-1.497) (-59.34,-1.517) (-58.75,-1.543) (-68.67,-1.557) (-63.01,-1.532) (-60.52,-1.504) (-68.94,-1.533) (-55.45,-1.525) (-55.20,-1.532) (-59.55,-1.530) (-55.87,-1.502) (-67.36,-1.569) (-64.93,-1.550) (-57.01,-1.506) (-57.24,-1.494) (-62.71,-1.519) (-57.27,-1.547) (-64.06,-1.523)
(-60.03,-1.543) (-65.80,-1.552) (-60.51,-1.516) (-63.99,-1.519) (-57.90,-1.525) (-56.37,-1.540) (-67.92,-1.579) (-65.97,-1.545) (-69.04,-1.558) (-56.79,-1.489) (-59.73,-1.542) (-56.73,-1.501) (-62.31,-1.542) (-61.63,-1.536) (-60.69,-1.493) (-64.36,-1.532) (-69.36,-1.539) (-60.37,-1.528) (-67.83,-1.538) (-59.11,-1.536)
(-68.38,-1.576) (-59.09,-1.512) (-67.20,-1.540) (-55.29,-1.508) (-62.38,-1.558) (-69.75,-1.568) (-65.10,-1.554) (-64.36,-1.544) (-55.99,-1.507) (-64.60,-1.565) (-67.93,-1.579) (-57.01,-1.502) (-69.15,-1.554) (-69.28,-1.575) (-62.16,-1.529) (-57.96,-1.529) (-55.41,-1.517) (-69.70,-1.568) (-69.21,-1.550) (-55.41,-1.493)
(-55.89,-1.502) (-58.17,-1.525) (-66.54,-1.538) (-59.74,-1.510) (-66.30,-1.562) (-67.71,-1.534) (-62.32,-1.534) (-61.99,-1.517) (-65.35,-1.563) (-55.08,-1.528) (-65.23,-1.567) (-65.73,-1.544) (-58.98,-1.528) (-64.03,-1.535) (-66.63,-1.531) (-66.60,-1.567) (-61.38,-1.519) (-66.69,-1.515) (-64.02,-1.535) (-66.00,-1.545)
(-65.77,-1.520) (-65.86,-1.560) (-65.26,-1.547) (-56.37,-1.548) (-58.44,-1.506) (-63.00,-1.544) (-55.24,-1.508) (-63.18,-1.516) (-67.86,-1.546) (-56.50,-1.533) (-66.88,-1.568) (-66.97,-1.528) (-68.92,-1.537) (-68.88,-1.557) (-61.32,-1.563) (-69.94,-1.549) (-56.67,-1.541) (-59.38,-1.553) (-57.85,-1.533) (-67.90,-1.571)
(-60.12,-1.543) (-67.29,-1.528) (-67.24,-1.548) (-59.46,-1.505) (-62.07,-1.537) (-59.64,-1.490) (-64.02,-1.551) (-68.16,-1.559) (-58.20,-1.541) (-62.49,-1.498) (-69.97,-1.525) (-60.69,-1.521) (-66.76,-1.567) (-69.87,-1.569) (-55.86,-1.486) (-59.70,-1.522) (-59.29,-1.533) (-56.40,-1.516) (-57.84,-1.500) (-62.56,-1.547)
(-61.81,-1.516) (-63.31,-1.545) (-65.47,-1.547) (-59.59,-1.530) (-61.33,-1.539) (-58.57,-1.526) (-58.80,-1.535) (-61.72,-1.512) (-62.58,-1.539) (-59.04,-1.520) (-59.77,-1.526) (-67.17,-1.552) (-55.15,-1.548) (-55.50,-1.533) (-66.82,-1.539) (-66.37,-1.542) (-68.02,-1.535) (-66.30,-1.558) (-58.05,-1.513) (-67.18,-1.560)
(-56.01,-1.519) (-57.64,-1.504) (-65.41,-1.559) (-66.00,-1.569) (-63.88,-1.535) (-63.09,-1.520) (-55.72,-1.510) (-66.31,-1.546) (-65.25,-1.539) (-56.79,-1.497) (-63.52,-1.533) (-64.57,-1.512) (-58.50,-1.526) (-66.78,-1.535) (-57.96,-1.509) (-66.82,-1.547) (-63.67,-1.514) (-55.78,-1.530) (-57.58,-1.544) (-58.90,-1.528)
(-64.95,-1.562) (-55.14,-1.508) (-59.16,-1.500) (-64.92,-1.570) (-57.99,-1.501) (-64.60,-1.569) (-57.99,-1.489)
};
\node[anchor=base east, inner sep=0pt, font=\fontsize{28}{32}\selectfont\tnr]
  at (axis description cs:0.940,0.849) {dynamic bump};
\end{axis}
\pgfresetboundingbox
\useasboundingbox (-110pt,-501pt) rectangle (328pt,314pt);
\end{tikzpicture}
\end{document}
